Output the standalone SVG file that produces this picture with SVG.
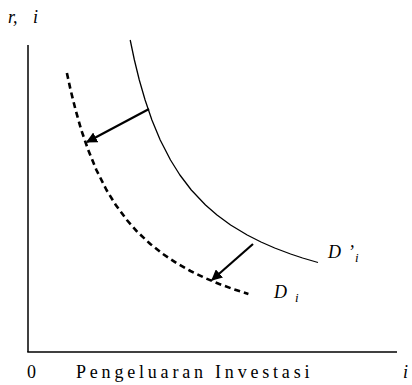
<svg xmlns="http://www.w3.org/2000/svg" width="412" height="385" viewBox="0 0 412 385">
<style>
.t{font-family:"Liberation Serif","Times New Roman",serif;font-size:18px;fill:#000}
.it{font-style:italic}
.ax{stroke:#000;stroke-width:1.5;fill:none}
</style>
<defs>
<marker id="ah" viewBox="0 0 10 10" refX="9" refY="5" markerWidth="5" markerHeight="5" orient="auto" markerUnits="strokeWidth">
<path d="M0,0 L10,5 L0,10 z" fill="#000"/>
</marker>
</defs>
<rect width="412" height="385" fill="#fff"/>
<g id="axes">
<line class="ax" x1="28" y1="45" x2="28" y2="352"/>
<line class="ax" x1="27.25" y1="352" x2="397" y2="352"/>
</g>
<g id="curve-D-prime">
<polyline points="130.2,40 134.4,60 139.3,80 145.1,100 151.9,120 160.2,140 170.5,160 179.9,175 191.3,190 205.5,205 217,215 230.6,225 247.2,235 261,242 274.7,248 290.6,254 302.6,258 318,262.5" fill="none" stroke="#000" stroke-width="1.3" stroke-linejoin="round"/>
</g>
<g id="curve-D">
<polyline points="66.9,73 70.6,90 75.6,110 81.3,130 88.2,150 96.4,170 106.5,190 115.8,205 126.9,220 137.5,232 150.3,244 162.9,254 176.4,263 190.5,271 205,278 219.3,284 232.9,289 248.4,294" fill="none" stroke="#000" stroke-width="2.6" stroke-dasharray="6,4" stroke-linejoin="round"/>
</g>
<g id="connectors">
<line x1="149" y1="109" x2="87" y2="142" stroke="#000" stroke-width="2.2" marker-end="url(#ah)"/>
<line x1="253" y1="244" x2="212" y2="280" stroke="#000" stroke-width="2.2" marker-end="url(#ah)"/>
</g>
<g id="labels">
<text class="t it" x="8" y="23">r,</text>
<text class="t it" x="33" y="23">i</text>
<text class="t" x="27" y="378">0</text>
<text class="t" x="76" y="378" letter-spacing="3.8">Pengeluaran Investasi</text>
<text class="t it" x="403" y="378">i</text>
<text class="t it" x="328" y="258" font-size="20">D<tspan dx="7">’</tspan><tspan font-size="13" dx="1" dy="4">i</tspan></text>
<text class="t it" x="274" y="298" font-size="20">D<tspan font-size="13" dx="8" dy="4">i</tspan></text>
</g>
</svg>
